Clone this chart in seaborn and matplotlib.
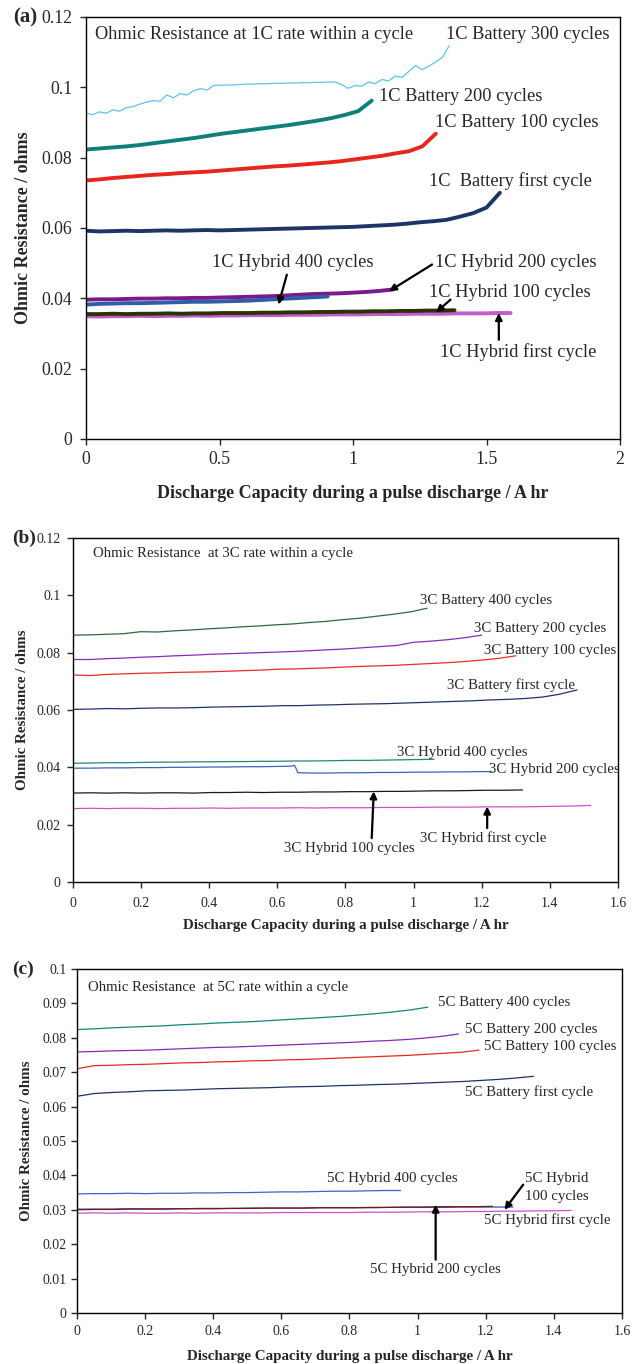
"""
Ohmic resistance within a cycle at 1C, 3C and 5C rate (battery vs hybrid).
Three stacked panels (a), (b), (c).
"""

import numpy as np
import matplotlib
matplotlib.use("Agg")
import matplotlib.pyplot as plt
from matplotlib.ticker import FuncFormatter
import seaborn as sns

# ---------------------------------------------------------------- data
# Each series: ohmic resistance (ohms) sampled evenly from 0 to its end capacity (A hr)

# (a) 1C rate
a_bat300_end = 1.36
a_bat300 = [.0926, .0922, .0930, .0926, .0936, .0932, .0942, .0945, .0952, .0958, .0962,
            .0960, .0978, .0970, .0982, .0978, .0990, .0996, .0992, .1005, .1006, .1006,
            .1007, .1008, .1009, .1009, .1010, .1010, .1011, .1011, .1012, .1012, .1013,
            .1013, .1014, .1014, .1015, .1015, .1008, .0997, .1005, .1003, .1015, .1010,
            .1022, .1018, .1032, .1028, .1045, .1062, .1050, .1060, .1072, .1085, .1118]
a_bat200_end = 1.07
a_bat200 = [.0823, .0826, .0829, .0832, .0836, .0841, .0846, .0851, .0856, .0862, .0868,
            .0873, .0878, .0883, .0888, .0893, .0899, .0905, .0912, .0921, .0932, .0962]
a_bat100_end = 1.31
a_bat100 = [.0735, .0738, .0742, .0745, .0748, .0751, .0753, .0756, .0758, .0760, .0763,
            .0766, .0769, .0772, .0775, .0777, .0780, .0783, .0786, .0790, .0795, .0800,
            .0805, .0812, .0818, .0832, .0868]
a_bat1_end = 1.55
a_bat1 = [.0592, .0590, .0591, .0592, .0591, .0592, .0593, .0592, .0593, .0594, .0593,
          .0594, .0595, .0596, .0597, .0598, .0599, .0600, .0601, .0602, .0603, .0605,
          .0607, .0609, .0612, .0616, .0619, .0623, .0632, .0642, .0658, .0700]
a_hyb200_end = 1.15
a_hyb200 = [.0396, .0397, .0397, .0398, .0399, .0399, .0400, .0400, .0401, .0401, .0402,
            .0403, .0404, .0405, .0406, .0408, .0410, .0412, .0413, .0414, .0416, .0418,
            .0421, .0425]
a_hyb400_end = 0.905
a_hyb400 = [.0382, .0384, .0385, .0386, .0386, .0387, .0388, .0389, .0390, .0390, .0391,
            .0392, .0393, .0395, .0397, .0399, .0401, .0403, .0405]
a_hyb100_end = 1.38
a_hyb100 = [.0355, .0355, .0356, .0355, .0356, .0356, .0357, .0356, .0357, .0357, .0358,
            .0358, .0358, .0359, .0359, .0360, .0360, .0361, .0361, .0362, .0362, .0363,
            .0363, .0364, .0364, .0365, .0365, .0366]
a_hyb1_end = 1.59
a_hyb1 = [.0349, .0348, .0349, .0349, .0350, .0349, .0350, .0350, .0351, .0350, .0351,
          .0351, .0352, .0352, .0352, .0353, .0353, .0353, .0354, .0354, .0354, .0355,
          .0355, .0355, .0356, .0356, .0356, .0357, .0357, .0357, .0358, .0358]

# (b) 3C rate
b_bat400_end = 1.04
b_bat400 = [.0861, .0862, .0864, .0866, .0873, .0872, .0876, .0879, .0883, .0886, .0890,
            .0893, .0897, .0900, .0905, .0909, .0915, .0920, .0927, .0934, .0942, .0955]
b_bat200_end = 1.20
b_bat200 = [.0776, .0776, .0779, .0781, .0784, .0786, .0789, .0791, .0794, .0796, .0798,
            .0800, .0802, .0804, .0807, .0810, .0813, .0817, .0821, .0825, .0836, .0840,
            .0845, .0852, .0861]
b_bat100_end = 1.30
b_bat100 = [.0722, .0720, .0724, .0726, .0728, .0729, .0731, .0732, .0733, .0735, .0737,
            .0739, .0742, .0743, .0745, .0747, .0750, .0752, .0754, .0756, .0759, .0762,
            .0765, .0769, .0774, .0780, .0789]
b_bat1_end = 1.48
b_bat1 = [.0602, .0603, .0605, .0604, .0606, .0607, .0607, .0608, .0610, .0611, .0612,
          .0613, .0615, .0615, .0617, .0618, .0620, .0621, .0622, .0624, .0626, .0628,
          .0630, .0632, .0635, .0637, .0640, .0645, .0655, .0670]
b_hyb400_end = 1.06
b_hyb400 = [.0414, .0415, .0416, .0416, .0417, .0418, .0418, .0419, .0419, .0420, .0420,
            .0421, .0421, .0422, .0422, .0423, .0424, .0424, .0425, .0426, .0427, .0428]
b_hyb200_cap = [0, .05, .1, .15, .2, .25, .3, .35, .4, .45, .5, .55, .6, .64, .65, .655,
                .66, .7, .75, .8, .85, .9, .95, 1.0, 1.05, 1.1, 1.15, 1.2, 1.23]
b_hyb200 = [.0397, .0397, .0398, .0398, .0399, .0399, .0400, .0400, .0401, .0401, .0402,
            .0402, .0403, .0404, .0407, .0396, .0381, .0380, .0380, .0381, .0381, .0382,
            .0382, .0383, .0383, .0384, .0384, .0385, .0385]
b_hyb100_end = 1.32
b_hyb100 = [.0310, .0311, .0310, .0311, .0310, .0311, .0311, .0310, .0312, .0312, .0313,
            .0312, .0313, .0313, .0314, .0314, .0315, .0315, .0316, .0316, .0317, .0318,
            .0318, .0319, .0320, .0320, .0321]
b_hyb1_end = 1.52
b_hyb1 = [.0256, .0257, .0256, .0257, .0257, .0256, .0257, .0257, .0258, .0257, .0258,
          .0258, .0258, .0259, .0258, .0259, .0259, .0259, .0260, .0260, .0260, .0261,
          .0261, .0261, .0262, .0262, .0262, .0263, .0264, .0265, .0267]

# (c) 5C rate
c_bat400_end = 1.03
c_bat400 = [.0824, .0826, .0829, .0831, .0833, .0835, .0838, .0840, .0843, .0845, .0847,
            .0850, .0853, .0856, .0859, .0862, .0866, .0870, .0875, .0881, .0889]
c_bat200_end = 1.12
c_bat200 = [.0759, .0760, .0762, .0763, .0764, .0766, .0768, .0770, .0772, .0773, .0775,
            .0777, .0779, .0781, .0783, .0785, .0787, .0790, .0792, .0795, .0799, .0804,
            .0811]
c_bat100_end = 1.18
c_bat100 = [.0710, .0719, .0720, .0722, .0723, .0725, .0727, .0728, .0730, .0731, .0733,
            .0734, .0736, .0737, .0739, .0741, .0743, .0745, .0747, .0749, .0752, .0755,
            .0758, .0764]
c_bat1_end = 1.34
c_bat1 = [.0630, .0638, .0641, .0643, .0646, .0647, .0648, .0650, .0652, .0653, .0654,
          .0655, .0657, .0658, .0659, .0661, .0662, .0664, .0665, .0667, .0669, .0671,
          .0673, .0676, .0679, .0683, .0688]
c_hyb400_end = 0.95
c_hyb400 = [.0346, .0347, .0347, .0348, .0347, .0348, .0348, .0349, .0349, .0350, .0350,
            .0351, .0352, .0352, .0353, .0354, .0354, .0355, .0356, .0356]
c_hyb100_end = 1.28
c_hyb100 = [.0302, .0302, .0302, .0303, .0303, .0303, .0303, .0304, .0304, .0304, .0305,
            .0305, .0305, .0305, .0306, .0306, .0306, .0306, .0307, .0307, .0307, .0307,
            .0308, .0308, .0308, .0308]
c_hyb200_end = 1.22
c_hyb200 = [.0300, .0301, .0301, .0302, .0302, .0302, .0303, .0303, .0303, .0304, .0304,
            .0305, .0305, .0305, .0306, .0306, .0306, .0307, .0307, .0308, .0308, .0309,
            .0309, .0309, .0310]
c_hyb1_end = 1.45
c_hyb1 = [.0290, .0291, .0290, .0291, .0290, .0290, .0291, .0290, .0291, .0291, .0291,
          .0291, .0292, .0292, .0292, .0292, .0292, .0293, .0293, .0293, .0294, .0294,
          .0294, .0295, .0295, .0296, .0296, .0297, .0297, .0298]

XLABEL = "Discharge Capacity during a pulse discharge / A hr"
YLABEL = "Ohmic Resistance / ohms"

# ---------------------------------------------------------------- style
sns.set_style("ticks")
plt.rcParams["font.family"] = ["Liberation Serif", "DejaVu Serif"]
plt.rcParams["axes.linewidth"] = 1.0


def curve(ax, end, vals, color, lw, cap=None):
    x = np.array(cap) if cap is not None else np.linspace(0, end, len(vals))
    sns.lineplot(x=x, y=np.array(vals), ax=ax, color=color, linewidth=lw,
                 estimator=None, sort=False)


def arrow(ax, start, end, lw=1.6):
    ax.annotate("", xy=end, xytext=start,
                arrowprops=dict(arrowstyle="-|>", color="black", lw=lw,
                                mutation_scale=10, shrinkA=0, shrinkB=0))


def setup(ax, xmax, xstep, ymax, ystep, fs, lfs, xpad, ypad, xlp, ylp):
    ax.set_xlim(0, xmax)
    ax.set_ylim(0, ymax)
    ax.set_xticks(np.arange(0, xmax + 1e-9, xstep))
    ax.set_yticks(np.arange(0, ymax + 1e-9, ystep))
    fmt = FuncFormatter(lambda v, _: f"{round(v, 4):g}")
    ax.xaxis.set_major_formatter(fmt)
    ax.yaxis.set_major_formatter(fmt)
    ax.tick_params(direction="out", length=4, width=1, labelsize=fs)
    ax.tick_params(axis="x", pad=xpad)
    ax.tick_params(axis="y", pad=ypad)
    for s in ax.spines.values():
        s.set_visible(True)
        s.set_color("black")
    ax.set_xlabel(XLABEL, fontsize=lfs, fontweight="bold", labelpad=xlp)
    ax.set_ylabel(YLABEL, fontsize=lfs, fontweight="bold", labelpad=ylp)


fig = plt.figure(figsize=(6.42, 13.64), dpi=100)

# ---------------------------------------------------------------- (a)
ax1 = fig.add_axes([0.1340, 0.6782, 0.8318, 0.3094])
lw_a = 2.8
curve(ax1, a_bat300_end, a_bat300, "#5BC5E6", 0.9)
curve(ax1, a_bat200_end, a_bat200, "#0E8079", lw_a)
curve(ax1, a_bat100_end, a_bat100, "#E8261C", lw_a)
curve(ax1, a_bat1_end, a_bat1, "#1F3466", lw_a)
curve(ax1, a_hyb1_end, a_hyb1, "#C35BC9", lw_a)
curve(ax1, a_hyb200_end, a_hyb200, "#7A1A8C", lw_a)
curve(ax1, a_hyb400_end, a_hyb400, "#2F5DA8", lw_a)
curve(ax1, a_hyb100_end, a_hyb100, "#2A3308", lw_a)
setup(ax1, 2.0, 0.5, 0.12, 0.02, 12.8, 13, 5, 6, 12, 6.5)

fa = 13.2
ax1.text(0.034, 0.1150, "Ohmic Resistance at 1C rate within a cycle", fontsize=fa, va="center")
ax1.text(1.349, 0.1150, "1C Battery 300 cycles", fontsize=fa, va="center")
ax1.text(1.096, 0.0974, "1C Battery 200 cycles", fontsize=fa, va="center")
ax1.text(1.306, 0.0900, "1C Battery 100 cycles", fontsize=fa, va="center")
ax1.text(1.283, 0.0734, "1C  Battery first cycle", fontsize=fa, va="center")
ax1.text(0.470, 0.0503, "1C Hybrid 400 cycles", fontsize=fa, va="center")
ax1.text(1.306, 0.0503, "1C Hybrid 200 cycles", fontsize=fa, va="center")
ax1.text(1.283, 0.0417, "1C Hybrid 100 cycles", fontsize=fa, va="center")
ax1.text(1.326, 0.0247, "1C Hybrid first cycle", fontsize=fa, va="center")
arrow(ax1, (0.752, 0.0467), (0.721, 0.0382))
arrow(ax1, (1.296, 0.0496), (1.135, 0.0420))
arrow(ax1, (1.365, 0.0396), (1.311, 0.0360))
arrow(ax1, (1.546, 0.0282), (1.546, 0.0358))
fig.text(0.02, 0.9875, "(a)", fontsize=15, fontweight="bold", va="center")

# ---------------------------------------------------------------- (b)
ax2 = fig.add_axes([0.1137, 0.3534, 0.8489, 0.2522])
lw_b = 0.9
curve(ax2, b_bat400_end, b_bat400, "#2E6B3A", lw_b)
curve(ax2, b_bat200_end, b_bat200, "#8A2BB5", lw_b)
curve(ax2, b_bat100_end, b_bat100, "#EE2A24", lw_b)
curve(ax2, b_bat1_end, b_bat1, "#1F3466", lw_b)
curve(ax2, b_hyb400_end, b_hyb400, "#1B8A7A", lw_b)
curve(ax2, None, b_hyb200, "#3A62C0", lw_b, cap=b_hyb200_cap)
curve(ax2, b_hyb100_end, b_hyb100, "#1A1A1A", lw_b)
curve(ax2, b_hyb1_end, b_hyb1, "#CC4FD0", lw_b)
setup(ax2, 1.6, 0.2, 0.12, 0.02, 10, 10.8, 6.5, 5, 7, 5)

fb = 10.7
ax2.text(0.06, 0.1145, "Ohmic Resistance  at 3C rate within a cycle", fontsize=fb, va="center")
ax2.text(1.018, 0.0983, "3C Battery 400 cycles", fontsize=fb, va="center")
ax2.text(1.177, 0.0884, "3C Battery 200 cycles", fontsize=fb, va="center")
ax2.text(1.207, 0.0807, "3C Battery 100 cycles", fontsize=fb, va="center")
ax2.text(1.098, 0.0687, "3C Battery first cycle", fontsize=fb, va="center")
ax2.text(0.95, 0.0453, "3C Hybrid 400 cycles", fontsize=fb, va="center")
ax2.text(1.222, 0.0391, "3C Hybrid 200 cycles", fontsize=fb, va="center")
ax2.text(0.62, 0.0118, "3C Hybrid 100 cycles", fontsize=fb, va="center")
ax2.text(1.018, 0.0153, "3C Hybrid first cycle", fontsize=fb, va="center")
arrow(ax2, (0.877, 0.0153), (0.883, 0.0316))
arrow(ax2, (1.216, 0.0188), (1.216, 0.0263))
fig.text(0.019, 0.6056, "(b)", fontsize=14, fontweight="bold", va="center")

# ---------------------------------------------------------------- (c)
ax3 = fig.add_axes([0.1199, 0.0374, 0.8489, 0.2522])
lw_c = 0.9
curve(ax3, c_bat400_end, c_bat400, "#13867B", lw_c)
curve(ax3, c_bat200_end, c_bat200, "#8B2AB0", lw_c)
curve(ax3, c_bat100_end, c_bat100, "#E8281E", lw_c)
curve(ax3, c_bat1_end, c_bat1, "#1F3466", lw_c)
curve(ax3, c_hyb400_end, c_hyb400, "#3A66C0", lw_c)
curve(ax3, c_hyb1_end, c_hyb1, "#C94FD0", lw_c)
curve(ax3, c_hyb100_end, c_hyb100, "#2E5AA8", lw_c)
curve(ax3, c_hyb200_end, c_hyb200, "#7A1515", lw_c)
setup(ax3, 1.6, 0.2, 0.1, 0.01, 10, 10.8, 5, 3.5, 8.5, 6.5)

fc = 10.7
ax3.text(0.0325, 0.0945, "Ohmic Resistance  at 5C rate within a cycle", fontsize=fc, va="center")
ax3.text(1.059, 0.0904, "5C Battery 400 cycles", fontsize=fc, va="center")
ax3.text(1.138, 0.0823, "5C Battery 200 cycles", fontsize=fc, va="center")
ax3.text(1.195, 0.0774, "5C Battery 100 cycles", fontsize=fc, va="center")
ax3.text(1.138, 0.0641, "5C Battery first cycle", fontsize=fc, va="center")
ax3.text(0.734, 0.0390, "5C Hybrid 400 cycles", fontsize=fc, va="center")
ax3.text(1.316, 0.0364, "5C Hybrid\n100 cycles", fontsize=fc, va="center", linespacing=1.5)
ax3.text(1.195, 0.0270, "5C Hybrid first cycle", fontsize=fc, va="center")
ax3.text(0.861, 0.0126, "5C Hybrid 200 cycles", fontsize=fc, va="center")
arrow(ax3, (1.310, 0.0373), (1.255, 0.0300))
arrow(ax3, (1.053, 0.0155), (1.053, 0.0315))
fig.text(0.019, 0.2896, "(c)", fontsize=14, fontweight="bold", va="center")

fig.savefig("out.png", dpi=100)
print("saved out.png")
